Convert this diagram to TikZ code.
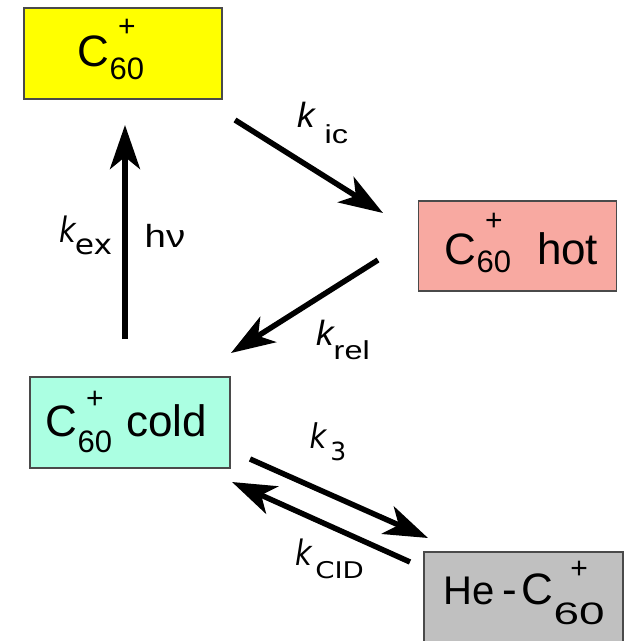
\documentclass[tikz,border=0pt]{standalone}
\usepackage{fontspec}
\setmainfont{Liberation Sans}
\newfontfamily\dvfont{DejaVu Sans}
\usetikzlibrary{arrows.meta}
\definecolor{boxyellow}{HTML}{FFFF00}
\definecolor{boxpink}{HTML}{F8A9A1}
\definecolor{boxcyan}{HTML}{ABFFE2}
\definecolor{boxgray}{HTML}{C0C0C0}
\definecolor{boxedge}{HTML}{4A4A4A}
\newsavebox\subbox
\newcommand\bigfs{\fontsize{44}{44}\selectfont}
\newcommand\subfs{\fontsize{31}{31}\selectfont}
\newcommand\supfs{\fontsize{30}{30}\selectfont}
% #1 lowering of 60, #2 raising of +, #3 horizontal scale of 60
\newcommand\cion[3]{C\sbox\subbox{\scalebox{#3}[1]{\subfs 60}}\raisebox{-#1pt}{\usebox\subbox}\hspace{-\wd\subbox}\makebox[\wd\subbox][c]{\raisebox{#2pt}{\supfs +}}}
% fixed height wrapper: baseline sits #1/2 below the node centre
\newcommand\fixh[2]{\raisebox{0pt}[#1pt][0pt]{#2}}
\tikzset{
  species/.style={draw=boxedge, line width=1.4pt, inner sep=0pt, minimum width=198pt, minimum height=90pt, font=\bigfs},
  rate/.style={-{Stealth[length=44pt,width=30pt,inset=12pt]}, line width=5.5pt},
  lbl/.style={anchor=base west, inner sep=0pt}
}
\begin{document}
\begin{tikzpicture}[x=1pt,y=-1pt]
\useasboundingbox (0,0) rectangle (630,641);
\clip (0,0) rectangle (630,641);
% species boxes
\node[species, fill=boxyellow, minimum height=91pt] (ion) at (123,53.5) {\fixh{26}{\cion{13}{30}{1}\hspace{24pt}}};
\node[species, fill=boxpink] (hot) at (517.5,246) {\fixh{37}{\hspace{8pt}\cion{8}{34}{1}\hspace{26pt}hot}};
\node[species, fill=boxcyan, minimum width=200pt, minimum height=91pt] (cold) at (130,422.5) {\fixh{28}{\cion{16}{28}{1}\hspace{14pt}cold\hspace{7.4pt}}};
\node[species, fill=boxgray, minimum width=199pt] (he) at (523.5,597) {\fixh{15}{\hspace{1.5pt}{\fontsize{40}{40}\selectfont He}\hspace{7pt}-\hspace{5pt}\cion{20}{26}{1.48}}};
% arrow end points
\coordinate (exS) at (125,339);
\coordinate (exE) at (125,125);
\coordinate (icS) at (235,120);
\coordinate (icE) at (383,213);
\coordinate (relS) at (378,260);
\coordinate (relE) at (231,353);
\coordinate (k3S) at (250,459);
\coordinate (k3E) at (428,538);
\coordinate (cidS) at (410,562);
\coordinate (cidE) at (232,482);
% arrows
\draw[rate] (exS) -- (exE);
\draw[rate] (icS) -- (icE);
\draw[rate] (relS) -- (relE);
\draw[rate] (k3S) -- (k3E);
\draw[rate] (cidS) -- (cidE);
% labels
\node[lbl] (lex) at (59.5,242) {\dvfont\scalebox{0.82}[1]{\fontsize{35}{35}\selectfont\itshape k}\hspace{-1.5pt}\raisebox{-12pt}{\scalebox{1.12}[1]{\fontsize{28}{28}\selectfont ex}}};
\node[lbl] (lhv) at (144.5,247) {\scalebox{1.2}[1]{\fontsize{32}{32}\selectfont hν}};
\node[lbl] (lic) at (297,127) {\fontsize{35}{35}\selectfont\itshape k\upshape\hspace{10pt}\raisebox{-16pt}{\scalebox{1.25}[1]{\fontsize{26}{26}\selectfont ic}}};
\node[lbl] (lrel) at (316,345) {\fontsize{35}{35}\selectfont\itshape k\upshape\raisebox{-14pt}{\scalebox{1.25}[1]{\fontsize{26}{26}\selectfont rel}}};
\node[lbl] (lk3) at (309.5,448) {\dvfont\scalebox{0.85}[1]{\fontsize{34}{34}\selectfont\itshape k}\hspace{4pt}\raisebox{-12pt}{\fontsize{25}{25}\selectfont 3}};
\node[lbl] (lcid) at (295.5,565) {\dvfont\scalebox{0.82}[1]{\fontsize{35}{35}\selectfont\itshape k}\hspace{3pt}\raisebox{-13pt}{\scalebox{1.2}[1]{\fontsize{23}{23}\selectfont CID}}};
\end{tikzpicture}
\end{document}
